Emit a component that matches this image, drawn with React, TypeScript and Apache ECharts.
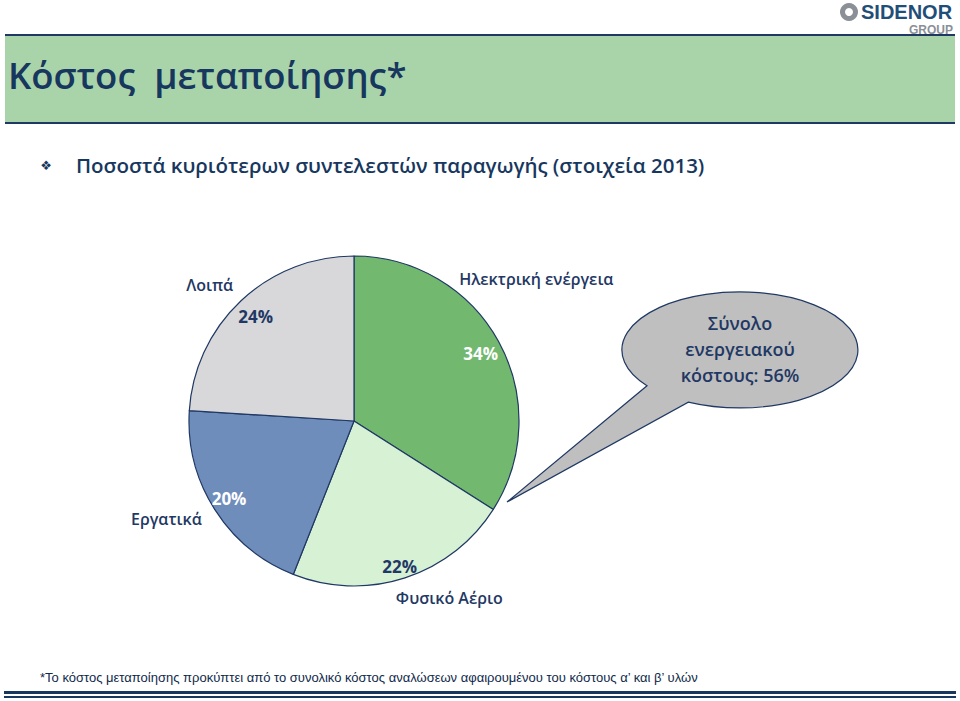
import React, { useEffect, useRef } from "react";
import * as echarts from "echarts";

// ---- Data ----
const categories = ["Ηλεκτρική ενέργεια", "Φυσικό Αέριο", "Εργατικά", "Λοιπά"];
const shares = [34, 22, 20, 24];
const percentLabels = ["34%", "22%", "20%", "24%"];
const titleText = "Κόστος  μεταποίησης*";
const subtitleText = "Ποσοστά κυριότερων συντελεστών παραγωγής (στοιχεία 2013)";
const bubbleLines = ["Σύνολο", "ενεργειακού", "κόστους: 56%"];
const footnoteText =
  "*Το κόστος μεταποίησης προκύπτει από το συνολικό κόστος αναλώσεων αφαιρουμένου του κόστους α’ και β’ υλών";

// ---- Styles ----
const sliceColors = ["#72B86F", "#D7F1D5", "#6F8DBB", "#D8D8DA"];
const pctColors = ["#FFFFFF", "#1F3864", "#FFFFFF", "#1F3864"];
const nameOffsets = [
  [0, -42],
  [31, -21],
  [-12, -13],
  [-2, 16],
];
const pctOffsets = [
  [-3, 4],
  [0, 5],
  [0, -2],
  [3, 3],
];
const NAVY = "#1F3864";
const FONT = "'Open Sans', 'Noto Sans', sans-serif";

echarts.graphic.registerShape(
  "speechBubble",
  echarts.graphic.extendPath(
    "M 647 385.7 A 118 58 0 1 1 688.3 402.1 L 507 502 Z",
    {}
  )
);

export default function App() {
  const ref = useRef<HTMLDivElement>(null);

  useEffect(() => {
    if (!ref.current) return;
    const chart = echarts.init(ref.current, undefined, { renderer: "svg" });

    const center = [354, 421];

    const option: any = {
      animation: false,
      backgroundColor: "#FFFFFF",
      series: [
        {
          type: "pie",
          center,
          radius: [0, 165],
          startAngle: 90,
          clockwise: true,
          silent: true,
          label: { show: false },
          labelLine: { show: false },
          itemStyle: { borderColor: NAVY, borderWidth: 1.2 },
          data: categories.map((c, i) => ({
            name: c,
            value: shares[i],
            itemStyle: { color: sliceColors[i] },
          })),
          z: 2,
        },
        {
          type: "pie",
          center,
          radius: [130, 160],
          startAngle: 90,
          clockwise: true,
          silent: true,
          itemStyle: { color: "transparent" },
          labelLine: { show: false },
          label: {
            show: true,
            position: "inside",
            fontFamily: FONT,
            fontSize: 17,
            fontWeight: "bold",
            formatter: (p: any) => percentLabels[p.dataIndex],
          },
          labelLayout: (p: any) => ({
            dx: pctOffsets[p.dataIndex][0],
            dy: pctOffsets[p.dataIndex][1],
          }),
          data: categories.map((c, i) => ({
            name: c,
            value: shares[i],
            label: { color: pctColors[i] },
          })),
          z: 3,
        },
        {
          type: "pie",
          center,
          radius: [195, 215],
          startAngle: 90,
          clockwise: true,
          silent: true,
          itemStyle: { color: "transparent" },
          labelLine: { show: false },
          label: {
            show: true,
            position: "inside",
            fontFamily: FONT,
            fontSize: 16,
            fontWeight: 600,
            color: NAVY,
            formatter: (p: any) => p.name,
          },
          labelLayout: (p: any) => ({
            dx: nameOffsets[p.dataIndex][0],
            dy: nameOffsets[p.dataIndex][1],
          }),
          data: categories.map((c, i) => ({ name: c, value: shares[i] })),
          z: 3,
        },
      ],
      graphic: [
        // logo
        {
          type: "ring",
          shape: { cx: 849, cy: 12, r: 9, r0: 4 },
          style: { fill: "#8A9096" },
        },
        {
          type: "text",
          x: 861,
          y: 12,
          style: {
            text: "SIDENOR",
            fontFamily: "'Liberation Sans', Arial, sans-serif",
            fontWeight: "bold",
            fontSize: 20,
            fill: "#1F4E79",
            verticalAlign: "middle",
          },
        },
        {
          type: "text",
          x: 953,
          y: 30,
          style: {
            text: "GROUP",
            fontFamily: "'Liberation Sans', Arial, sans-serif",
            fontWeight: "bold",
            fontSize: 12,
            fill: "#8A9096",
            align: "right",
            verticalAlign: "middle",
          },
        },
        // title bar
        {
          type: "rect",
          shape: { x: 5, y: 35, width: 950, height: 88 },
          style: { fill: "#A9D4AA" },
        },
        {
          type: "line",
          shape: { x1: 5, y1: 35, x2: 955, y2: 35 },
          style: { stroke: NAVY, lineWidth: 2 },
        },
        {
          type: "line",
          shape: { x1: 5, y1: 123, x2: 955, y2: 123 },
          style: { stroke: NAVY, lineWidth: 2 },
        },
        {
          type: "text",
          x: 8,
          y: 75,
          style: {
            text: titleText,
            fontFamily: FONT,
            fontSize: 36.5,
            fontWeight: 600,
            fill: "#17375E",
            verticalAlign: "middle",
          },
        },
        // subtitle
        {
          type: "text",
          x: 46,
          y: 165,
          style: {
            text: "❖",
            fontFamily: "'DejaVu Sans', sans-serif",
            fontSize: 13,
            fill: "#17375E",
            align: "center",
            verticalAlign: "middle",
          },
        },
        {
          type: "text",
          x: 76,
          y: 165,
          style: {
            text: subtitleText,
            fontFamily: FONT,
            fontSize: 20.5,
            fontWeight: 600,
            fill: "#17375E",
            verticalAlign: "middle",
          },
        },
        // speech bubble
        {
          type: "speechBubble",
          x: 0,
          y: 0,
          style: { fill: "#BFBFBF", stroke: NAVY, lineWidth: 1.2 },
          z: 5,
        },
        ...bubbleLines.map((t, i) => ({
          type: "text",
          x: 740,
          y: 323 + i * 26,
          z: 6,
          style: {
            text: t,
            fontFamily: FONT,
            fontSize: 18,
            fontWeight: 600,
            fill: NAVY,
            align: "center",
            verticalAlign: "middle",
          },
        })),
        // footnote
        {
          type: "text",
          x: 40,
          y: 677,
          style: {
            text: footnoteText,
            fontFamily: "'Liberation Sans Narrow', 'Liberation Sans', Arial, sans-serif",
            fontSize: 13,
            fill: "#0F2A4A",
            verticalAlign: "middle",
          },
        },
        // bottom lines
        {
          type: "rect",
          shape: { x: 4, y: 691, width: 952, height: 3 },
          style: { fill: "#17375E" },
        },
        {
          type: "rect",
          shape: { x: 4, y: 696, width: 952, height: 2 },
          style: { fill: "#17375E" },
        },
      ],
    };

    chart.setOption(option);
    return () => chart.dispose();
  }, []);

  return (
    <div
      ref={ref}
      style={{ position: "absolute", left: 0, top: 0, width: 960, height: 701 }}
    />
  );
}
